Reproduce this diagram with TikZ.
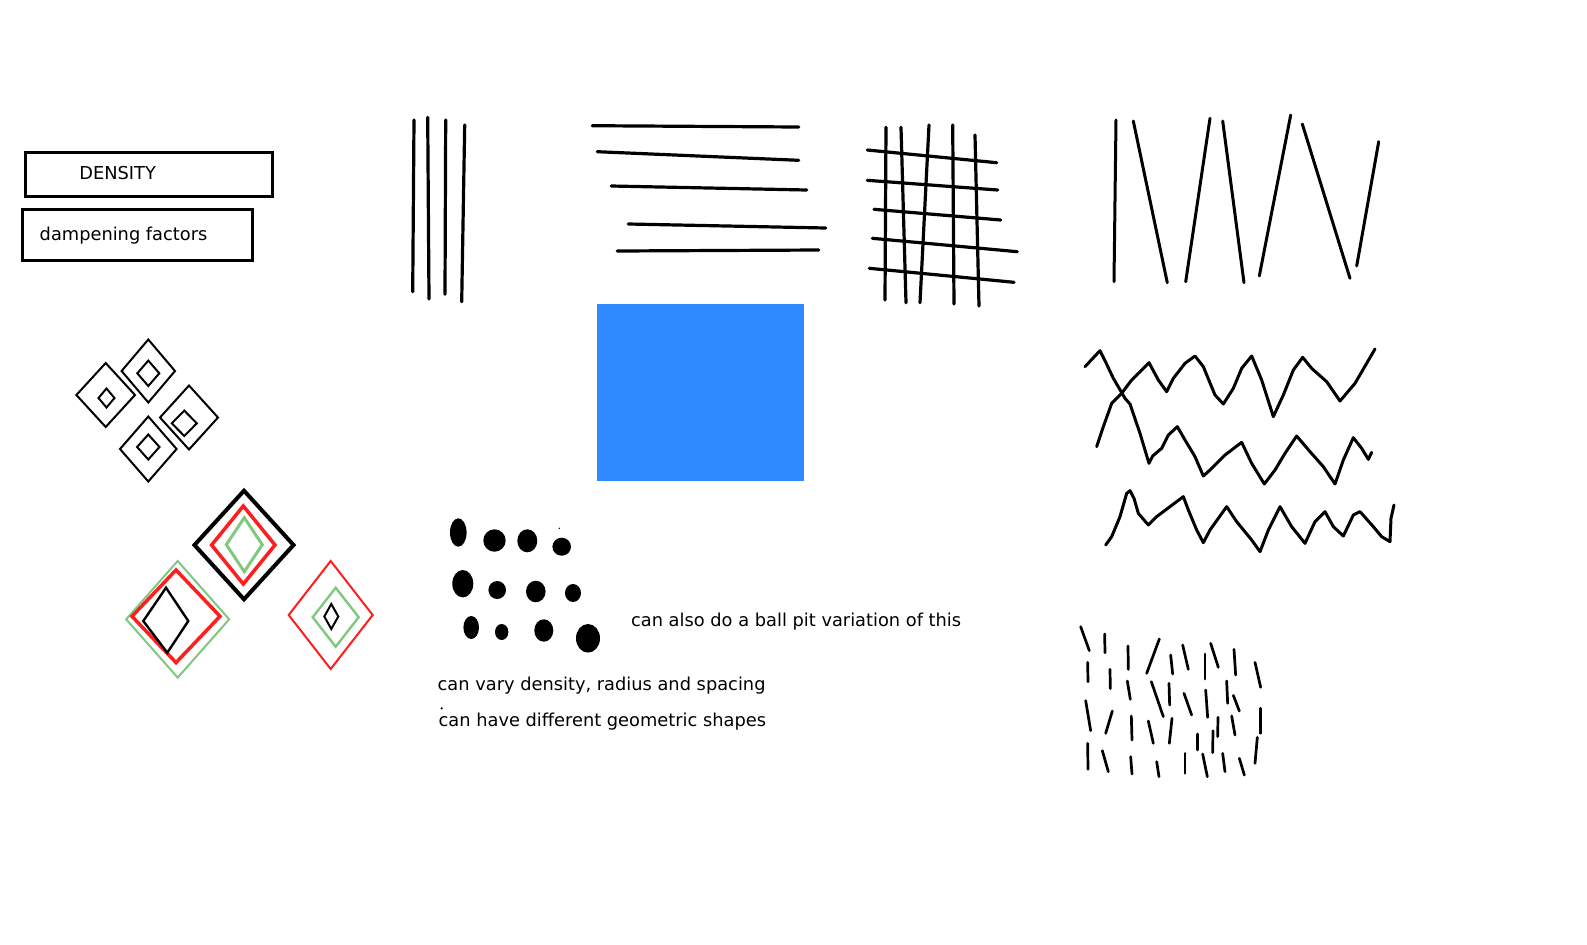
\documentclass[tikz,border=0pt]{standalone}
\usepackage{fontspec}
\setmainfont{DejaVu Sans}
\definecolor{skyblue}{RGB}{46,139,255}
\definecolor{softgreen}{RGB}{128,200,128}
\definecolor{brightred}{RGB}{255,30,30}
\tikzstyle{stroke}=[line width=1.6pt,line cap=round]
\tikzstyle{wave}=[line width=1.5pt,line cap=round,line join=round]
\tikzstyle{tick}=[line width=1.35pt,line cap=round]
\tikzstyle{frame}=[line width=1.5pt]
\tikzstyle{note}=[inner sep=0pt,anchor=base west,font=\fontsize{8.9}{11}\selectfont]
% diamond: centre x, centre y, half width, half height
\newcommand{\rhomb}[5][]{\draw[#1] (#2,#3-#5) -- (#2+#4,#3) -- (#2,#3+#5) -- (#2-#4,#3) -- cycle;}

\begin{document}
\begin{tikzpicture}[x=0.5pt,y=-0.5pt]
\useasboundingbox (0,0) rectangle (1587,944);

% labels
\draw[frame] (25,152.2) rectangle (272,196.4);
\node (density) [note] at (79,179.3) {DENSITY};
\draw[frame] (22.3,209.3) rectangle (252.3,260);
\node (damping) [note] at (39.3,240) {dampening factors};

% vertical strokes
\foreach \a/\b/\c/\d in {414/120/412.7/291.7,427.7/117.3/429/299,445.7/120/445/294.3,464.7/125/461.7/301.7}
	\draw[stroke] (\a,\b) -- (\c,\d);

% horizontal strokes
\foreach \a/\b/\c/\d in {592.3/125.7/798.7/127,597.3/151.7/798.7/160.3,611.3/186/806.7/190,628.3/224/825.7/228,617.3/251/818.7/250}
	\draw[stroke] (\a,\b) -- (\c,\d);

\fill[skyblue] (597,304) rectangle (804,480.7);

% grid
\foreach \a/\b/\c/\d in {886/127.3/885/300,901/127.3/906/302.7,929/125/920/302.7,952.7/125/954/304,975/135/979/306,
	867.3/150/996.7/162.7,867.3/180.3/997.7/190,874/209.3/1000.7/220,872.3/238.3/1017.3/251.7,869.3/268.3/1014/282.3}
	\draw[stroke] (\a,\b) -- (\c,\d);

% slanted strokes
\foreach \a/\b/\c/\d in {1116/120/1114/281.7,1133.3/121/1167.3/282.7,1210/118.3/1185.7/281.7,1222.7/121/1244/282.7,
	1290.7/115/1259.3/276,1302.3/124/1350/278.3,1378.7/141.7/1356.7/266}
	\draw[stroke,line width=1.5pt] (\a,\b) -- (\c,\d);

% small nested diamonds
\foreach \cx/\cy/\w/\h in {105.7/395/29.3/32,106.5/398/8/9.5,148.3/371/26.7/31.5,148.3/373.3/11/12.7,
	189/417.5/29/32,184.3/423.3/12.5/12.7,148.3/449/28.3/32.5,148.3/447/11.2/12.5}
	{\rhomb[line width=1pt]{\cx}{\cy}{\w}{\h}}

% coloured diamonds
\rhomb[line width=2pt]{244}{545}{49.5}{54.3}
\rhomb[brightred,line width=1.75pt]{243.3}{545}{31.7}{39}
\rhomb[softgreen,line width=1.5pt]{244.3}{544.7}{18}{27}
\rhomb[softgreen,line width=1pt]{177.7}{619.3}{51.5}{58.3}
\rhomb[brightred,line width=1.75pt]{176}{616.3}{44}{46.3}
\draw[line width=1.2pt] (166,587.7) -- (188.3,621) -- (167.3,652.7) -- (143.3,621) -- cycle;
\rhomb[brightred,line width=1pt]{330.7}{615}{42}{54}
\rhomb[softgreen,line width=1.2pt]{335.7}{617.2}{23}{29.5}
\rhomb[line width=1pt]{331.3}{616.5}{7}{12.5}

% balls
\foreach \px/\py/\rx/\ry in {458.3/532.5/8.3/14.2,494.5/540.5/11.2/11.2,527.3/540.8/10/11.5,561.7/546.7/9.3/9,
	462.8/583.7/10.5/13.7,497.2/590/8.8/9,535.8/591.5/9.8/10.8,573/593/8/9,
	471.2/627.5/7.8/11.5,501.7/632/6.7/8,543.8/630.5/9.5/11.2,588/638.3/12/14.3}
	\fill (\px,\py) ellipse [x radius=\rx, y radius=\ry];
\fill (559.3,528.3) circle [radius=0.8];
\fill (441.7,708.3) circle [radius=1.2];

\node (ballpit) [note] at (630.7,626) {can also do a ball pit variation of this};
\node (vary) [note] at (437.3,690) {can vary density, radius and spacing};
\node (shapes) [note] at (438.3,726) {can have different geometric shapes};

% waves
\begin{scope}[shift={(1070,330)},scale=1/3]
\draw[wave] (80,350) -- (100,290) -- (125,220) -- (155,190) -- (185,150) -- (237,98) -- (265,150) -- (290,185) -- (310,145) -- (345,100) -- (375,78) -- (400,110) -- (435,195) -- (460,222) -- (490,175) -- (515,115) -- (545,78) -- (575,150) -- (610,260) -- (640,195) -- (670,120) -- (698,82) -- (725,115) -- (770,155) -- (810,213) -- (855,160) -- (890,100) -- (915,57);
\draw[wave] (45,110) -- (90,62) -- (105,92) -- (130,145) -- (165,205) -- (180,222) -- (210,310) -- (237,400) -- (248,378) -- (275,355) -- (295,315) -- (322,290) -- (345,330) -- (375,380) -- (400,438) -- (420,420) -- (465,375) -- (515,337) -- (545,400) -- (583,462) -- (615,420) -- (645,370) -- (680,318) -- (720,365) -- (760,410) -- (795,462) -- (820,390) -- (850,323) -- (875,355) -- (895,388) -- (905,367);
\draw[wave] (107,645) -- (125,620) -- (150,560) -- (170,490) -- (180,482) -- (192,505) -- (205,550) -- (235,585) -- (260,560) -- (300,530) -- (340,500) -- (355,540) -- (380,600) -- (400,638) -- (420,600) -- (470,530) -- (500,575) -- (545,630) -- (570,665) -- (595,600) -- (630,530) -- (665,590) -- (705,640) -- (735,575) -- (765,545) -- (790,590) -- (820,618) -- (850,555) -- (870,545) -- (910,590) -- (935,620) -- (960,635) -- (963,565) -- (972,525);
\end{scope}

% short dashes
\begin{scope}[shift={(1070,610)},scale=1/3]
\foreach \a/\b/\c/\d in {32/50/58/122,104/72/105/128,174/108/175/178,268/87/230/190,302/135/308/192,338/105/355/178,
	405/132/405/207,422/100/445/172,492/118/497/195,555/157/572/232,
	53/157/54/215,120/178/121/236,172/213/181/268,244/215/280/320,297/220/299/285,342/250/365/315,
	407/240/413/322,470/213/473/280,490/256/508/303,572/295/572/370,
	47/272/62/362,127/303/107/370,184/318/186/390,235/333/250/400,306/325/298/400,383/372/383/420,
	429/362/428/428,444/322/443/380,485/318/495/375,562/382/555/460,
	53/400/54/478,97/422/115/485,182/440/186/492,260/455/267/500,345/430/345/490,398/432/412/500,
	458/430/465/485,508/445/523/495}
	\draw[tick] (\a,\b) -- (\c,\d);
\end{scope}
\end{tikzpicture}
\end{document}
